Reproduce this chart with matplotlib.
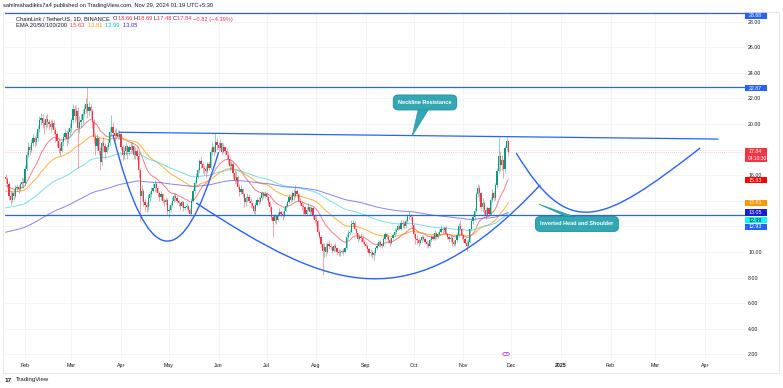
import numpy as np
import pandas as pd
import matplotlib
matplotlib.use('Agg')
import matplotlib.pyplot as plt
import matplotlib.dates as mdates
from matplotlib.path import Path
from matplotlib.patches import PathPatch, Polygon, Rectangle

plt.rcParams['font.family'] = ['Liberation Sans', 'DejaVu Sans']

# ---------------- data (LINK/USDT daily) ----------------
first_date = '2024-01-20'
first_open = 15.9

close = [
    15.7, 15.3, 14.4, 14.1, 14.6, 14.4, 15.0,
    15.1, 14.9, 15.3, 15.5, 15.4, 16.5, 17.6,
    18.2, 18.0, 18.5, 18.9, 18.6, 18.9, 19.6,
    20.3, 20.5, 20.1, 19.9, 20.4, 20.2, 20.0,
    19.8, 20.1, 19.5, 19.2, 18.7, 18.1, 17.9,
    18.6, 19.0, 19.3, 18.8, 19.4, 19.7, 20.3,
    21.2, 20.6, 21.0, 19.7, 20.2, 20.3, 20.8,
    21.2, 21.6, 21.0, 21.3, 21.0, 20.2, 19.0,
    18.3, 18.9, 17.9, 17.0, 18.5, 18.3, 17.8,
    18.2, 18.5, 19.4, 19.8, 19.3, 19.1, 19.3,
    19.0, 19.2, 18.2, 17.6, 17.9, 18.3, 17.8,
    18.2, 18.0, 18.3, 17.6, 17.9, 17.5, 16.4,
    14.4, 14.8, 13.9, 13.7, 13.5, 14.2, 14.5,
    14.8, 15.0, 15.3, 15.0, 14.6, 14.3, 14.5,
    14.0, 13.9, 14.1, 13.2, 13.3, 13.7, 14.0,
    14.4, 14.2, 14.0, 13.8, 13.6, 13.9, 13.4,
    13.5, 13.6, 13.3, 13.0, 14.0, 14.8, 15.4,
    15.9, 16.4, 17.1, 16.9, 16.6, 16.5, 16.3,
    16.9, 16.6, 17.8, 18.2, 17.8, 18.6, 18.4,
    18.1, 18.5, 17.8, 18.2, 17.9, 17.6, 17.3,
    16.7, 16.9, 16.2, 15.6, 15.9, 15.1, 14.7,
    14.9, 14.5, 13.9, 14.2, 14.3, 14.0, 13.8,
    13.6, 13.2, 13.7, 14.1, 13.9, 14.2, 14.6,
    14.4, 14.5, 14.3, 13.9, 13.5, 12.7, 12.4,
    12.8, 12.5, 12.9, 13.1, 13.0, 12.8, 13.2,
    13.6, 13.9, 14.3, 14.1, 14.6, 14.4, 14.8,
    14.5, 14.0, 13.8, 13.6, 13.5, 13.0, 13.3,
    13.5, 13.1, 13.4, 12.8, 12.5, 12.4, 11.6,
    11.2, 10.6, 10.1, 10.4, 10.0, 10.6, 10.5,
    10.4, 10.1, 10.5, 10.3, 10.0, 9.9, 10.0,
    10.1, 10.0, 10.3, 11.2, 11.5, 11.6, 12.2,
    12.3, 11.8, 11.5, 11.0, 11.2, 11.1, 10.8,
    10.6, 10.5, 10.2, 9.9, 10.0, 9.8, 9.9,
    10.3, 10.5, 10.8, 10.6, 10.5, 11.0, 11.4,
    11.2, 10.9, 10.7, 11.1, 11.3, 11.6, 11.7,
    12.0, 11.8, 12.3, 12.2, 12.0, 12.4, 12.8,
    12.9, 12.7, 12.1, 11.4, 11.0, 10.9, 10.7,
    10.9, 11.2, 11.0, 10.8, 10.6, 10.5, 10.9,
    11.2, 11.0, 11.5, 11.2, 11.4, 11.6, 11.8,
    11.7, 11.9, 11.4, 11.2, 11.0, 11.1, 10.8,
    10.6, 10.9, 11.3, 12.0, 11.8, 11.3, 11.0,
    10.7, 10.5, 10.8, 11.8, 12.4, 12.7, 13.2,
    14.5, 15.0, 14.6, 13.5, 13.8, 13.3, 12.9,
    13.4, 13.0, 14.1, 14.6, 14.2, 15.2, 16.3,
    17.5, 16.8, 17.2, 16.5, 18.1, 18.66, 17.84,
]

high = [
    16.1, 15.9, 15.5, 14.7, 14.8, 14.9, 15.2,
    15.3, 15.2, 15.5, 15.9, 15.8, 16.8, 17.9,
    18.6, 18.4, 18.8, 19.2, 19.1, 19.3, 19.9,
    20.6, 20.9, 20.8, 20.4, 20.7, 20.8, 20.4,
    20.3, 20.4, 20.3, 19.8, 19.4, 18.9, 18.5,
    18.8, 19.3, 19.6, 19.5, 19.7, 20.1, 20.5,
    21.6, 21.5, 21.4, 21.3, 20.6, 20.8, 21.2,
    21.5, 22.0, 22.87, 21.7, 21.6, 21.2, 20.4,
    19.3, 19.2, 19.0, 18.2, 18.7, 19.0, 18.5,
    18.4, 18.8, 19.8, 20.7, 20.2, 19.6, 19.7,
    19.5, 19.5, 19.4, 18.4, 18.2, 18.6, 18.4,
    18.4, 18.6, 18.6, 18.4, 18.2, 18.1, 17.8,
    16.6, 15.2, 14.9, 14.2, 13.9, 14.5, 14.8,
    15.1, 15.4, 15.6, 15.5, 15.1, 14.8, 14.8,
    14.6, 14.2, 14.3, 14.2, 13.6, 13.9, 14.3,
    14.6, 14.6, 14.4, 14.1, 13.9, 14.1, 14.0,
    13.7, 13.8, 13.7, 13.4, 14.2, 15.0, 15.6,
    16.2, 16.6, 17.3, 17.5, 17.0, 16.8, 16.7,
    17.0, 17.1, 18.1, 18.6, 18.3, 19.3, 18.9,
    18.6, 18.8, 18.6, 18.5, 18.3, 18.1, 17.9,
    17.4, 17.1, 17.0, 16.4, 16.3, 16.0, 15.3,
    15.2, 15.0, 14.6, 14.4, 14.6, 14.5, 14.2,
    13.9, 13.7, 13.9, 14.3, 14.3, 14.4, 14.8,
    14.7, 14.8, 14.7, 14.4, 14.0, 13.6, 12.9,
    13.0, 12.9, 13.1, 13.4, 13.3, 13.2, 13.4,
    13.8, 14.1, 14.5, 14.5, 14.8, 14.9, 15.2,
    14.9, 14.6, 14.2, 14.0, 13.8, 13.6, 13.5,
    13.8, 13.6, 13.6, 13.5, 13.0, 12.8, 12.5,
    11.8, 11.3, 10.7, 10.7, 10.6, 10.8, 10.9,
    10.7, 10.5, 10.6, 10.7, 10.4, 10.2, 10.2,
    10.2, 10.3, 10.4, 11.4, 11.7, 11.8, 12.5,
    12.5, 12.4, 11.9, 11.6, 11.4, 11.5, 11.3,
    10.9, 10.8, 10.6, 10.3, 10.2, 10.1, 10.1,
    10.4, 10.7, 10.9, 10.9, 10.7, 11.2, 11.6,
    11.5, 11.3, 11.1, 11.2, 11.5, 11.9, 11.9,
    12.2, 12.1, 12.5, 12.5, 12.4, 12.6, 13.0,
    13.2, 13.0, 12.8, 12.2, 11.5, 11.3, 11.1,
    11.0, 11.3, 11.3, 11.1, 10.9, 10.8, 11.0,
    11.3, 11.3, 11.7, 11.6, 11.6, 11.8, 12.0,
    11.9, 12.0, 12.0, 11.5, 11.3, 11.3, 11.3,
    10.9, 11.0, 11.5, 12.3, 12.5, 11.9, 11.4,
    11.1, 10.9, 11.0, 11.9, 12.6, 13.0, 13.4,
    14.7, 15.3, 15.2, 14.7, 14.2, 14.0, 13.5,
    13.6, 13.5, 14.3, 14.9, 14.8, 15.4, 16.6,
    19.1, 17.9, 17.6, 17.3, 18.4, 19.1, 18.69,
]

low = [
    15.4, 15.0, 14.1, 13.7, 13.9, 14.1, 14.2,
    14.8, 14.6, 14.8, 15.1, 15.0, 15.2, 16.3,
    17.4, 17.6, 17.8, 18.3, 18.2, 18.4, 18.7,
    19.4, 19.9, 19.7, 19.2, 19.6, 19.8, 19.5,
    19.4, 19.6, 19.2, 18.6, 18.2, 17.7, 17.6,
    17.8, 18.3, 18.8, 18.3, 18.5, 19.1, 19.4,
    20.1, 20.2, 20.3, 16.6, 19.3, 19.8, 20.0,
    20.6, 20.9, 20.5, 20.6, 20.5, 19.7, 18.5,
    17.6, 18.0, 17.6, 16.4, 16.8, 17.9, 17.3,
    17.7, 18.0, 18.4, 19.1, 19.0, 18.7, 18.8,
    18.8, 18.8, 18.0, 17.2, 17.3, 17.6, 17.3,
    17.6, 17.8, 17.8, 17.3, 17.3, 17.2, 15.8,
    12.4, 14.0, 13.6, 13.2, 13.1, 13.2, 13.9,
    14.3, 14.7, 14.8, 14.7, 14.3, 14.0, 14.1,
    13.8, 13.6, 13.7, 13.0, 12.7, 13.1, 13.6,
    13.9, 14.0, 13.8, 13.6, 13.3, 13.5, 13.2,
    13.3, 13.3, 13.1, 12.8, 13.0, 13.9, 14.6,
    15.3, 15.8, 16.2, 16.6, 16.2, 16.0, 15.9,
    16.2, 16.4, 16.5, 17.6, 17.5, 17.7, 18.0,
    17.9, 18.0, 17.6, 17.7, 17.6, 17.3, 16.9,
    16.4, 16.5, 15.7, 15.3, 15.4, 14.9, 14.4,
    14.5, 14.3, 13.5, 13.6, 13.9, 13.8, 13.4,
    13.4, 13.0, 13.0, 13.6, 13.7, 13.8, 14.1,
    14.2, 14.2, 14.1, 13.7, 13.2, 12.5, 11.2,
    12.3, 12.2, 12.4, 12.8, 12.7, 12.5, 12.7,
    13.2, 13.5, 13.8, 13.9, 14.0, 14.1, 14.3,
    14.3, 13.9, 13.6, 13.3, 13.0, 12.8, 12.9,
    13.2, 12.9, 13.0, 12.6, 12.3, 12.0, 11.4,
    11.0, 10.4, 8.2, 9.6, 9.7, 9.9, 10.2,
    10.2, 9.9, 10.0, 10.1, 9.8, 9.7, 9.7,
    9.9, 9.8, 9.9, 10.2, 11.0, 11.3, 11.5,
    12.0, 11.7, 11.3, 10.8, 10.9, 10.8, 10.6,
    10.5, 10.3, 10.0, 9.7, 9.7, 9.5, 9.4,
    9.8, 10.2, 10.4, 10.4, 10.3, 10.5, 10.9,
    11.0, 10.7, 10.5, 10.6, 11.0, 11.2, 11.4,
    11.7, 11.7, 11.7, 11.9, 11.8, 11.9, 12.3,
    12.6, 12.4, 11.8, 11.2, 10.6, 10.6, 10.5,
    10.6, 10.8, 10.9, 10.7, 10.4, 10.3, 10.4,
    10.8, 10.9, 10.9, 11.0, 11.1, 11.3, 11.5,
    11.5, 11.6, 11.3, 11.0, 10.8, 10.8, 10.5,
    10.5, 10.5, 10.8, 11.2, 11.7, 11.0, 10.8,
    10.6, 10.1, 10.3, 10.7, 11.7, 12.2, 12.5,
    13.1, 14.3, 14.0, 13.2, 13.1, 12.8, 12.6,
    12.8, 12.8, 12.9, 13.9, 14.0, 14.1, 15.0,
    16.2, 16.3, 16.4, 15.8, 16.2, 17.9, 17.48,
]

# EMA starting values read at the left edge of the chart
ema_periods = [20, 50, 100, 200]
ema_start = [15.1, 14.7, 13.4, 11.5]
ema_colors = ['#f7525f', '#ff9800', '#4dd0e1', '#5b5bf0']
ema_last = ['15.63', '13.81', '12.99', '13.05']
ema_legend_colors = ['#f23645', '#ff9800', '#00bcd4', '#2a2ad8']

# horizontal levels drawn on the chart
levels = [28.68, 22.87, 12.93]

# neckline trend line (date, price)
neckline = [('2024-03-31', 19.36), ('2025-04-09', 18.83)]

# pattern curves: control points (date, price)
left_shoulder = [('2024-03-27', 19.15), ('2024-04-28', 3.24), ('2024-06-01', 17.82)]
head = [('2024-05-18', 13.83), ('2024-08-10', 6.95), ('2024-09-29', 4.45), ('2024-12-19', 15.24)]
right_shoulder = [('2024-12-04', 17.74), ('2025-01-06', 10.94), ('2025-01-26', 12.11), ('2025-03-29', 18.13)]

month_ticks = ['2024-02-01', '2024-03-01', '2024-04-01', '2024-05-01', '2024-06-01',
               '2024-07-01', '2024-08-01', '2024-09-01', '2024-10-01', '2024-11-01',
               '2024-12-01', '2025-01-01', '2025-02-01', '2025-03-01', '2025-04-01']
month_labels = ['Feb', 'Mar', 'Apr', 'May', 'Jun', 'Jul', 'Aug', 'Sep', 'Oct', 'Nov',
                'Dec', '2025', 'Feb', 'Mar', 'Apr']
price_ticks = list(range(2, 30, 2))
hidden_ticks = [12, 14, 18]   # these labels sit under the coloured price boxes

W, H = 783, 388


def fx(px):
    return px / W


def fy(py):
    return 1 - py / H


def dnum(d):
    return mdates.date2num(pd.Timestamp(d))


# ---------------- figure ----------------
fig = plt.figure(figsize=(W / 100, H / 100), dpi=100)
fig.patch.set_facecolor('white')
ax = fig.add_axes([fx(5), fy(361), fx(745) - fx(5), fy(12) - fy(361)])

feb1 = pd.Timestamp('2024-02-01')
ax.set_xlim(dnum(feb1 - pd.Timedelta(hours=300)), dnum(feb1 + pd.Timedelta(days=450)))
ax.set_ylim(1.476, 28.763)
for s in ax.spines.values():
    s.set_visible(False)

ax.set_yticks(price_ticks)
ax.set_yticklabels(['' if v in hidden_ticks else '%.2f' % v for v in price_ticks])
ax.yaxis.tick_right()
ax.tick_params(axis='y', length=0, pad=2.3, labelsize=3.8, labelcolor='#131722')
ax.set_xticks([dnum(d) for d in month_ticks])
ax.set_xticklabels(month_labels)
ax.tick_params(axis='x', length=0, pad=1.6, labelsize=3.8, labelcolor='#131722')
for lab in ax.get_xticklabels():
    if lab.get_text() == '2025':
        lab.set_fontweight('bold')
ax.grid(True, color='#f0f3fa', lw=0.6)
ax.set_axisbelow(True)

# candles
dates = pd.date_range(first_date, periods=len(close), freq='D')
x = mdates.date2num(dates)
c = np.array(close)
o = np.array([first_open] + close[:-1])
hi = np.array(high)
lo = np.array(low)
cols = np.where(c >= o, '#089981', '#f23645')
ax.vlines(x, lo, hi, colors=cols, lw=0.45, alpha=0.7, zorder=3)
body = np.maximum(np.abs(c - o), 0.06)
ax.bar(x, body, bottom=np.minimum(o, c), width=0.72, color=cols, lw=0, zorder=3.5)

# EMA lines
for n, start, col in zip(ema_periods, ema_start, ema_colors):
    ema = pd.Series([start] + close).ewm(span=n, adjust=False).mean().iloc[1:]
    ax.plot(x, ema.values, color=col, lw=0.7, alpha=0.75, zorder=2.5)

# last price dotted line
ax.axhline(close[-1], color='#f23645', lw=0.5, ls=(0, (1, 2)), alpha=0.5, zorder=2)

# horizontal levels
for lv in levels:
    ax.axhline(lv, color='#2962ff', lw=0.9, zorder=4)

# neckline
ax.plot([dnum(d) for d, _ in neckline], [p for _, p in neckline], color='#2962ff',
        lw=0.9, zorder=4)


def curve(points, code):
    verts = [(dnum(d), p) for d, p in points]
    codes = [Path.MOVETO] + [code] * (len(verts) - 1)
    ax.add_patch(PathPatch(Path(verts, codes), fc='none', ec='#2962ff', lw=1.0, zorder=4))


curve(left_shoulder, Path.CURVE3)
curve(head, Path.CURVE4)
curve(right_shoulder, Path.CURVE4)

# callouts
teal = '#35a7b3'
teal_edge = '#1f8f9b'


def callout(text, center, tip, base):
    ax.add_patch(Polygon([(dnum(base[0]), base[2]), (dnum(base[1]), base[2]),
                          (dnum(tip[0]), tip[1])], closed=True, fc=teal, ec=teal_edge,
                         lw=0.4, zorder=5))
    ax.text(dnum(center[0]), center[1], text, ha='center', va='center', color='white',
            fontsize=4.0, fontweight='bold', zorder=6,
            bbox=dict(boxstyle='round,pad=0.9,rounding_size=0.9', fc=teal, ec=teal_edge, lw=0.6))


callout('Neckline Resistance', ('2024-10-08', 21.69), ('2024-09-30', 19.07),
        ('2024-10-04', '2024-10-11', 21.3))
callout('Inverted Head and Shoulder', ('2025-01-11', 12.19), ('2024-12-18', 13.75),
        ('2025-01-07', '2025-01-13', 12.6))

# ---------------- price scale labels ----------------
price_boxes = [
    ('28.68', 15.5, '#2962ff', 'white'),
    ('22.87', 88.0, '#2962ff', 'white'),
    ('15.63', 180.0, '#ff0000', 'white'),
    ('13.81', 203.0, '#ff9800', 'white'),
    ('13.05', 212.5, '#1c1cd9', 'white'),
    ('12.99', 220.0, '#00ffff', '#131722'),
    ('12.93', 227.0, '#2962ff', 'white'),
]
for txt, py, fc, tc in price_boxes:
    fig.patches.append(Rectangle((fx(745), fy(py + 3.2)), fx(767) - fx(745), fy(py - 3.2) - fy(py + 3.2),
                                 transform=fig.transFigure, fc=fc, ec='none'))
    fig.text(fx(749), fy(py), txt, color=tc, fontsize=3.8, va='center', ha='left')

# last price box with countdown
fig.patches.append(Rectangle((fx(745), fy(162)), fx(767) - fx(745), fy(148) - fy(162),
                             transform=fig.transFigure, fc='#f23645', ec='none'))
fig.text(fx(749), fy(151.7), '17.84', color='white', fontsize=3.8, va='center', ha='left')
fig.text(fx(748), fy(158.3), '04:10:30', color='white', fontsize=3.5, va='center', ha='left')

# frame
fig.patches.append(Rectangle((fx(3), fy(373)), fx(779) - fx(3), fy(12) - fy(373),
                             transform=fig.transFigure, fill=False, ec='#e0e3eb', lw=0.6))

# ---------------- header and legend ----------------
fig.text(fx(3), fy(6), 'sahilmahadikks7a4 published on TradingView.com, Nov 29, 2024 01:19 UTC+5:30',
         fontsize=4.15, color='#131722', va='center', ha='left')

renderer = fig.canvas.get_renderer()


def text_width(s, size):
    # measure with a guard character so spaces at the end are counted
    t = fig.text(0, 0, s + '|', fontsize=size)
    g = fig.text(0, 0, '|', fontsize=size)
    w = t.get_window_extent(renderer).width - g.get_window_extent(renderer).width
    t.remove()
    g.remove()
    return w


def colored_line(px, py, parts, size=4.15):
    xx = px
    for s, col in parts:
        fig.text(fx(xx), fy(py), s, color=col, fontsize=size, va='center', ha='left')
        xx += text_width(s, size)


dark = '#131722'
red = '#f23645'
colored_line(16, 19, [('ChainLink / TetherUS, 1D, BINANCE  ', dark), ('O', dark), ('18.66 ', red),
                      ('H', dark), ('18.69 ', red), ('L', dark), ('17.48 ', red), ('C', dark),
                      ('17.84 ', red), ('\u22120.82 (\u22124.39%)', red)])
parts = [('EMA 20/50/100/200  ', dark)]
for v, col in zip(ema_last, ema_legend_colors):
    parts.append((v + '  ', col))
colored_line(16, 25.7, parts)

# events marker and footer
fig.patches.append(plt.Circle((fx(506), fy(354)), 3.3 / W, transform=fig.transFigure,
                              fc='white', ec='#b23fd6', lw=0.6))
fig.text(fx(506), fy(354), '\u26a1', color='#b23fd6', fontsize=3.2, ha='center', va='center',
         family=['DejaVu Sans'])
fig.text(fx(5), fy(380), '17', fontsize=4.6, fontweight='bold', color='#131722', va='center')
fig.text(fx(16), fy(380), 'TradingView', fontsize=4.3, color='#131722', va='center')

fig.savefig('out.png', dpi=100)
